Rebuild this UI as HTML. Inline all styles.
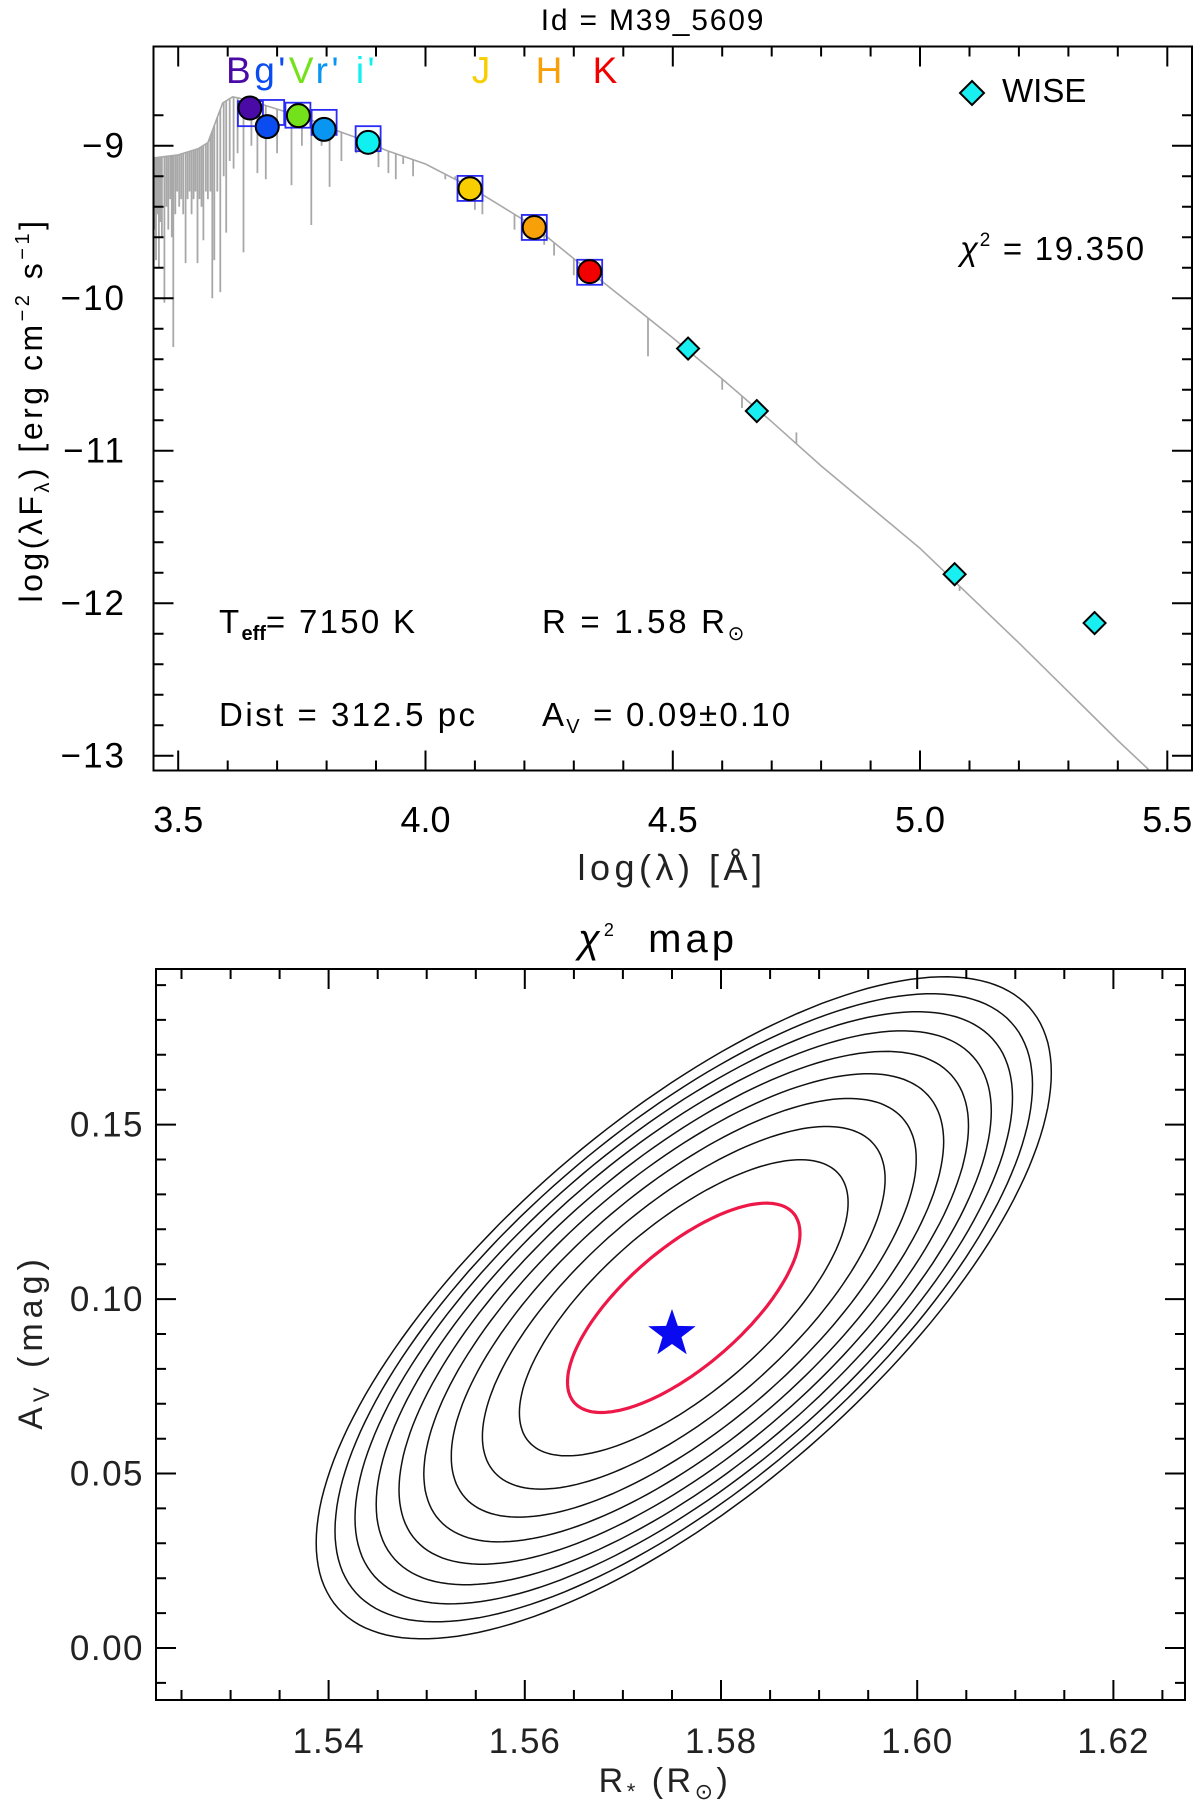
<!DOCTYPE html>
<html><head><meta charset="utf-8"><title>SED fit M39_5609</title>
<style>
html,body{margin:0;padding:0;background:#fff;}
svg{display:block;font-family:"Liberation Sans",sans-serif;}
</style></head>
<body>
<svg id="fig" width="1200" height="1808" viewBox="0 0 1200 1808" xmlns="http://www.w3.org/2000/svg">
<rect x="0" y="0" width="1200" height="1808" fill="#fff"/>
<g id="topPanel"></g>
<g id="botPanel"></g>
</svg>
<script>
// ---------- SED data ----------
const bandNames = ["B","g'","V","r'","i'","J","H","K"];
const bandColors = ["#4a0aa6","#0a4cf0","#74e21a","#0896f2","#10f0f0","#f8ce00","#f8a008","#f20000"];
const obsLogLam = [3.645,3.680,3.743,3.795,3.884,4.090,4.220,4.332];
const obsLogF = [-8.753,-8.875,-8.803,-8.893,-8.978,-9.282,-9.536,-9.826];
const modLogLam = [3.646,3.689,3.742,3.795,3.884,4.090,4.220,4.332];
const modLogF = [-8.790,-8.782,-8.800,-8.847,-8.954,-9.280,-9.536,-9.830];
const wiseLogLam = [4.531,4.670,5.070,5.353];
const wiseLogF = [-10.33,-10.74,-11.81,-12.13];
const contLogLam = [3.45,3.50,3.54,3.56,3.575,3.59,3.61,3.64,3.67,3.70,3.76,3.82,3.88,3.92,4.00,4.09,4.22,4.33,4.40,4.50,4.60,4.70,4.80,5.00,5.20,5.40,5.462];
const contLogF = [-9.08,-9.06,-9.02,-8.98,-8.85,-8.72,-8.68,-8.70,-8.73,-8.76,-8.82,-8.90,-8.97,-9.03,-9.12,-9.27,-9.53,-9.82,-10.00,-10.26,-10.53,-10.81,-11.10,-11.64,-12.26,-12.90,-13.09];
const lineLogLam = [3.452,3.455,3.458,3.461,3.464,3.467,3.472,3.476,3.480,3.484,3.487,3.490,3.494,3.498,3.502,3.506,3.510,3.515,3.519,3.523,3.527,3.531,3.535,3.539,3.543,3.547,3.551,3.556,3.560,3.565,3.569,3.573,3.579,3.585,3.592,3.597,3.604,3.612,3.620,3.632,3.648,3.660,3.677,3.700,3.729,3.750,3.769,3.790,3.806,3.830,3.860,3.905,3.925,3.940,3.955,3.975,4.040,4.060,4.080,4.100,4.115,4.180,4.200,4.240,4.260,4.300,4.360,4.450,4.600,4.640,4.750,5.080];
const lineBottom = [-9.55,-9.75,-9.45,-9.8,-9.5,-9.6,-10.03,-9.4,-9.55,-9.35,-9.6,-10.32,-9.45,-9.3,-9.4,-9.35,-9.45,-9.77,-9.35,-9.3,-9.45,-9.35,-9.3,-9.77,-9.35,-9.4,-9.62,-9.3,-9.35,-9.3,-10.0,-9.75,-9.3,-9.96,-9.2,-9.57,-9.1,-9.15,-9.05,-9.70,-9.0,-9.18,-9.22,-9.05,-9.26,-9.0,-9.52,-9.0,-9.27,-9.1,-9.05,-9.14,-9.18,-9.22,-9.12,-9.2,-9.22,-9.2,-9.3,-9.42,-9.45,-9.55,-9.58,-9.65,-9.72,-9.85,-9.9,-10.38,-10.6,-10.72,-10.88,-11.92];
const xTicksTop = [3.5,4.0,4.5,5.0,5.5];
const xTickLabelsTop = ["3.5","4.0","4.5","5.0","5.5"];
const yTicksTop = [-9,-10,-11,-12,-13];
const yTickLabelsTop = ["\u22129","\u221210","\u221211","\u221212","\u221213"];

// ---------- chi2 map data ----------
const chiLevels = [1,2,3,4,5,6,7,8,9,10];
const chiCenter = [1.5762,0.0975];
const chiSigma = [0.01185,0.0300];
const chiRho = [0.71];
const bestFit = [1.575,0.090];
const xTicksBot = [1.54,1.56,1.58,1.60,1.62];
const xTickLabelsBot = ["1.54","1.56","1.58","1.60","1.62"];
const yTicksBot = [0.00,0.05,0.10,0.15];
const yTickLabelsBot = ["0.00","0.05","0.10","0.15"];

const NS="http://www.w3.org/2000/svg";
function mk(parent,tag,attrs,text){
  const e=document.createElementNS(NS,tag);
  for(const k in attrs) e.setAttribute(k,attrs[k]);
  if(text!==undefined) e.textContent=text;
  parent.appendChild(e); return e;
}
// ---------- Top axes ----------
const T={L:153.5,R:1192,Tp:46.5,B:770.5,x0:3.45,x1:5.55,y0:-13.11,y1:-8.66};
T.y1 = -9 + (145.7-46.5)/152.5;
T.y0 = -9 - (770.5-145.7)/152.5;
function tx(v){return T.L+(v-T.x0)/(T.x1-T.x0)*(T.R-T.L);}
function ty(v){return T.B-(v-T.y0)/(T.y1-T.y0)*(T.B-T.Tp);}
const topG=document.getElementById('topPanel');
const clipDef=mk(document.getElementById('fig'),'defs',{});
const cp=mk(clipDef,'clipPath',{id:'cpTop'});
mk(cp,'rect',{x:T.L,y:T.Tp,width:T.R-T.L,height:T.B-T.Tp});
const cp2=mk(clipDef,'clipPath',{id:'cpBot'});

let el=mk(topG,'text',{x:653,y:30,'font-size':30,'text-anchor':'middle',fill:'#000','letter-spacing':1.8},'Id = M39_5609');



const specG=mk(topG,'g',{'clip-path':'url(#cpTop)'});


function contAt(x){
  for(let i=0;i<contLogLam.length-1;i++){
    if(x>=contLogLam[i]&&x<=contLogLam[i+1]){
      const t=(x-contLogLam[i])/(contLogLam[i+1]-contLogLam[i]);
      return contLogF[i]+t*(contLogF[i+1]-contLogF[i]);
    }
  }
  return contLogF[contLogF.length-1];
}
let d='';
contLogLam.forEach((x,i)=>{d+=(i?'L':'M')+tx(x).toFixed(1)+','+ty(contLogF[i]).toFixed(1);});
el=mk(specG,'path',{d:d,fill:'none',stroke:'#a8a8a8','stroke-width':1.6});


let dl='';
lineLogLam.forEach((x,i)=>{
  const c=contAt(x);
  dl+='M'+tx(x).toFixed(1)+','+ty(c).toFixed(1)+'L'+tx(x).toFixed(1)+','+ty(lineBottom[i]).toFixed(1);
});
el=mk(specG,'path',{d:dl,fill:'none',stroke:'#a8a8a8','stroke-width':1.8});



modLogLam.forEach((x,i)=>{
  const s=mk(topG,'rect',{x:tx(x)-12.5,y:ty(modLogF[i])-12.5,width:25,height:25,fill:'none',stroke:'#2a2af5','stroke-width':1.8});
  
  
});
obsLogLam.forEach((x,i)=>{
  const c=mk(topG,'circle',{cx:tx(x),cy:ty(obsLogF[i]),r:11.5,fill:bandColors[i],stroke:'#000','stroke-width':2});
  
  
});
wiseLogLam.forEach((x,i)=>{
  const cx=tx(x),cy=ty(wiseLogF[i]);
  const p=mk(topG,'path',{d:`M${cx},${cy-11}L${cx+11},${cy}L${cx},${cy+11}L${cx-11},${cy}Z`,fill:'#19eef0',stroke:'#000','stroke-width':2});
  
  
});
const bandLab=mk(topG,'text',{x:226,y:83,'font-size':37,'letter-spacing':3.5});


[["B",0],["g'",1],["V",2],["r'",3],["\u00A0i'",4]].forEach(([t,i])=>{
  mk(bandLab,'tspan',{fill:bandColors[i]},t);
});
[["J",5,481],["H",6,549],["K",7,605]].forEach(([t,i,x])=>{
  const e=mk(topG,'text',{x:x,y:83,'font-size':37,'text-anchor':'middle',fill:bandColors[i]},t);
  
  
});
el=mk(topG,'path',{d:'M972,81L984,93L972,105L960,93Z',fill:'#19eef0',stroke:'#000','stroke-width':2});


el=mk(topG,'text',{x:1002,y:102,'font-size':33},'WISE');


el=mk(topG,'text',{x:960,y:260,'font-size':33,'letter-spacing':1.7},'');


mk(el,'tspan',{'font-style':'italic'},'\u03C7');
mk(el,'tspan',{dy:-14,'font-size':19},'2');
mk(el,'tspan',{dy:14},' = 19.350');
el=mk(topG,'text',{x:219,y:633,'font-size':33,'letter-spacing':2.3});


mk(el,'tspan',{},'T');mk(el,'tspan',{dy:7,'font-size':20,'font-weight':'bold','letter-spacing':0},'eff');mk(el,'tspan',{dy:-7},'= 7150 K');
el=mk(topG,'text',{x:542,y:633,'font-size':33,'letter-spacing':2.7});


mk(el,'tspan',{},'R = 1.58 R');mk(el,'tspan',{dy:7,'font-size':20},'\u2299');
el=mk(topG,'text',{x:219,y:726,'font-size':33,'letter-spacing':2.5},'Dist = 312.5 pc');


el=mk(topG,'text',{x:542,y:726,'font-size':33,'letter-spacing':2.2});


mk(el,'tspan',{},'A');mk(el,'tspan',{dy:7,'font-size':20},'V');mk(el,'tspan',{dy:-7},' = 0.09\u00B10.10');

function axesBox(g,L,R,Tp,B,name){
  const r=mk(g,'rect',{x:L,y:Tp,width:R-L,height:B-Tp,fill:'none',stroke:'#000','stroke-width':2});
  
  
}
function ticks(g,L,R,Tp,B,xf,yf,xs,xe,xminor,xmajor,ys,ye,yminor,ymajor){
  let p='';
  const n1=Math.round((xe-xs)/xminor);
  for(let k=0;k<=n1;k++){const v=xs+k*xminor;const maj=Math.abs(v/xmajor-Math.round(v/xmajor))<1e-6;const len=maj?20:10;const X=xf(v).toFixed(1);
    p+=`M${X},${B}L${X},${B-len}M${X},${Tp}L${X},${Tp+len}`;}
  const n2=Math.round((ye-ys)/yminor);
  for(let k=0;k<=n2;k++){const v=ys+k*yminor;const maj=Math.abs(v/ymajor-Math.round(v/ymajor))<1e-6;const len=maj?20:10;const Y=yf(v).toFixed(1);
    p+=`M${L},${Y}L${L+len},${Y}M${R},${Y}L${R-len},${Y}`;}
  return mk(g,'path',{d:p,stroke:'#000','stroke-width':2,fill:'none'});
}
axesBox(topG,T.L,T.R,T.Tp,T.B,'sed-axes-frame');
el=ticks(topG,T.L,T.R,T.Tp,T.B,tx,ty,3.5,5.5,0.1,0.5,-13,-8.8,0.2,1);


xTicksTop.forEach((v,i)=>{
  const e=mk(topG,'text',{x:tx(v),y:832,'font-size':36,'text-anchor':'middle'},xTickLabelsTop[i]);
  
  
});
yTicksTop.forEach((v,i)=>{
  const e=mk(topG,'text',{x:126,y:ty(v)+12,'font-size':35,'text-anchor':'end','letter-spacing':2},yTickLabelsTop[i]);
  
  
});
el=mk(topG,'text',{x:672,y:880,'font-size':36,'text-anchor':'middle',fill:'#222','letter-spacing':4.5},'log(\u03BB) [\u00C5]');


el=mk(topG,'text',{x:0,y:0,'font-size':32,'text-anchor':'middle','letter-spacing':3.5,transform:'translate(42,410) rotate(-90)'});


mk(el,'tspan',{},'log(\u03BBF');mk(el,'tspan',{dy:7,'font-size':20},'\u03BB');mk(el,'tspan',{dy:-7},') [erg cm');
mk(el,'tspan',{dy:-13,'font-size':20},'\u22122');mk(el,'tspan',{dy:13},' s');mk(el,'tspan',{dy:-13,'font-size':20},'\u22121');mk(el,'tspan',{dy:13},']');

// ---------- Bottom chi2 map ----------
const Bx={L:156,R:1185,Tp:969,B:1700,x0:1.5224,x1:1.6273,y0:-0.0149,y1:0.1946};
function bx(v){return Bx.L+(v-Bx.x0)/(Bx.x1-Bx.x0)*(Bx.R-Bx.L);}
function by(v){return Bx.B-(v-Bx.y0)/(Bx.y1-Bx.y0)*(Bx.B-Bx.Tp);}
mk(cp2,'rect',{x:Bx.L,y:Bx.Tp,width:Bx.R-Bx.L,height:Bx.B-Bx.Tp});
const botG=document.getElementById('botPanel');
el=mk(botG,'text',{x:658,y:952,'font-size':40,'text-anchor':'middle','letter-spacing':4});


mk(el,'tspan',{'font-style':'italic'},'\u03C7');mk(el,'tspan',{dy:-16,'font-size':18},'2');mk(el,'tspan',{dy:16},'\u00A0\u00A0map');

const contG=mk(botG,'g',{'clip-path':'url(#cpBot)'});


const rho=chiRho[0];
chiLevels.forEach((lev,i)=>{
  let p='';
  const s=Math.sqrt(lev);
  for(let k=0;k<=180;k++){
    const t=k/180*2*Math.PI;
    const u=s*Math.cos(t);
    const v=s*(rho*Math.cos(t)+Math.sqrt(1-rho*rho)*Math.sin(t));
    const R=chiCenter[0]+u*chiSigma[0], A=chiCenter[1]+v*chiSigma[1];
    p+=(k?'L':'M')+bx(R).toFixed(1)+','+by(A).toFixed(1);
  }
  const red=i===0;
  const c=mk(contG,'path',{d:p+'Z',fill:'none',stroke:red?'#ee1848':'#111','stroke-width':red?3.2:1.5});
  
  
});
(function(){
  const cx=bx(bestFit[0]),cy=by(bestFit[1]),Ro=25,Ri=10;let p='';
  for(let k=0;k<10;k++){const a=-Math.PI/2+k*Math.PI/5;const r=k%2?Ri:Ro;p+=(k?'L':'M')+(cx+r*Math.cos(a)).toFixed(1)+','+(cy+r*Math.sin(a)).toFixed(1);}
  const st=mk(botG,'path',{d:p+'Z',fill:'#0a0af0'});
  
  
})();
axesBox(botG,Bx.L,Bx.R,Bx.Tp,Bx.B,'chi2-axes-frame');
el=ticks(botG,Bx.L,Bx.R,Bx.Tp,Bx.B,bx,by,1.525,1.625,0.005,0.02,-0.01,0.19,0.01,0.05);


xTicksBot.forEach((v,i)=>{
  const e=mk(botG,'text',{x:bx(v),y:1753,'font-size':35,'text-anchor':'middle',fill:'#222','letter-spacing':1},xTickLabelsBot[i]);
  
  
});
yTicksBot.forEach((v,i)=>{
  const e=mk(botG,'text',{x:144,y:by(v)+12,'font-size':35,'text-anchor':'end',fill:'#222','letter-spacing':1.5},yTickLabelsBot[i]);
  
  
});
el=mk(botG,'text',{x:665,y:1792,'font-size':34,'text-anchor':'middle',fill:'#222','letter-spacing':3.5});


mk(el,'tspan',{},'R');mk(el,'tspan',{dy:7,'font-size':22},'*');mk(el,'tspan',{dy:-7},' (R');mk(el,'tspan',{dy:7,'font-size':22},'\u2299');mk(el,'tspan',{dy:-7},')');
el=mk(botG,'text',{x:0,y:0,'font-size':34,'text-anchor':'middle',fill:'#222','letter-spacing':5,transform:'translate(42,1342) rotate(-90)'});


mk(el,'tspan',{},'A');mk(el,'tspan',{dy:7,'font-size':22},'V');mk(el,'tspan',{dy:-7},'\u00A0(mag)');
</script>
</body></html>
